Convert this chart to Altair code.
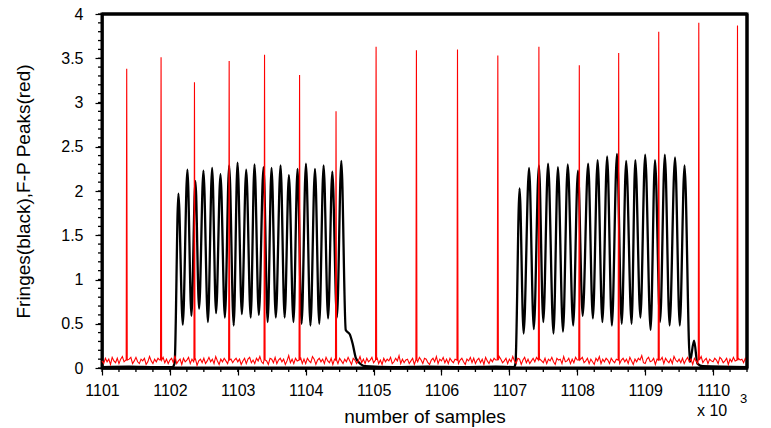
import altair as alt
import pandas as pd

FONT = "Liberation Sans"

# ---------------- data ----------------
# Fabry-Perot peaks (red spikes): position (x10^3 samples) and height
fp_x = [1101.364, 1101.870, 1102.362, 1102.873, 1103.394, 1103.910, 1104.447,
        1105.037, 1105.631, 1106.236, 1106.830, 1107.435, 1108.030,
        1108.610, 1109.200, 1109.790, 1110.360]
fp_peak = [3.38, 3.51, 3.23, 3.47, 3.54, 3.31, 2.90,
           3.63, 3.59, 3.60, 3.53, 3.63, 3.42,
           3.56, 3.80, 3.90, 3.87]
fp_base = 0.09

# red noise floor, sampled every 0.025 (x10^3) from 1101.0 to 1110.5
red_noise = [
    0.08, 0.05, 0.11, 0.07, 0.10, 0.04, 0.12, 0.08, 0.06, 0.11, 0.05, 0.10, 0.13, 0.07, 0.09, 0.04, 0.10, 0.12, 0.05, 0.08,
    0.12, 0.07, 0.05, 0.10, 0.08, 0.11, 0.04, 0.07, 0.13, 0.08, 0.05, 0.10, 0.07, 0.11, 0.09, 0.04, 0.12, 0.06, 0.10, 0.05,
    0.09, 0.11, 0.06, 0.14, 0.05, 0.08, 0.10, 0.04, 0.11, 0.07, 0.09, 0.12, 0.05, 0.10, 0.07, 0.11, 0.03, 0.08, 0.10, 0.06,
    0.11, 0.05, 0.08, 0.12, 0.07, 0.10, 0.05, 0.13, 0.08, 0.04, 0.10, 0.07, 0.11, 0.08, 0.05, 0.12, 0.10, 0.06, 0.09, 0.11,
    0.07, 0.10, 0.04, 0.08, 0.11, 0.05, 0.10, 0.12, 0.06, 0.09, 0.05, 0.11, 0.08, 0.13, 0.07, 0.05, 0.10, 0.08, 0.04, 0.11,
    0.10, 0.06, 0.12, 0.05, 0.09, 0.11, 0.07, 0.10, 0.04, 0.08, 0.14, 0.06, 0.10, 0.05, 0.11, 0.08, 0.06, 0.12, 0.05, 0.10,
    0.05, 0.11, 0.08, 0.06, 0.13, 0.10, 0.04, 0.09, 0.11, 0.07, 0.10, 0.05, 0.12, 0.08, 0.06, 0.11, 0.04, 0.10, 0.08, 0.05,
    0.11, 0.08, 0.05, 0.10, 0.07, 0.12, 0.08, 0.04, 0.11, 0.09, 0.05, 0.08, 0.13, 0.06, 0.10, 0.05, 0.11, 0.07, 0.09, 0.12,
    0.06, 0.10, 0.12, 0.05, 0.09, 0.04, 0.11, 0.07, 0.10, 0.08, 0.12, 0.05, 0.07, 0.11, 0.08, 0.14, 0.05, 0.10, 0.06, 0.09,
    0.10, 0.05, 0.08, 0.11, 0.04, 0.10, 0.07, 0.12, 0.09, 0.05, 0.11, 0.10, 0.06, 0.04, 0.09, 0.11, 0.07, 0.13, 0.05, 0.10,
    0.08, 0.12, 0.06, 0.10, 0.05, 0.11, 0.08, 0.06, 0.10, 0.13, 0.05, 0.09, 0.11, 0.07, 0.04, 0.10, 0.08, 0.12, 0.06, 0.11,
    0.05, 0.09, 0.11, 0.06, 0.10, 0.04, 0.12, 0.08, 0.05, 0.10, 0.07, 0.11, 0.09, 0.05, 0.13, 0.10, 0.06, 0.08, 0.11, 0.05,
    0.10, 0.07, 0.13, 0.08, 0.05, 0.11, 0.10, 0.04, 0.09, 0.12, 0.06, 0.10, 0.05, 0.08, 0.11, 0.07, 0.12, 0.05, 0.10, 0.08,
    0.06, 0.11, 0.05, 0.10, 0.08, 0.12, 0.07, 0.04, 0.11, 0.09, 0.10, 0.05, 0.13, 0.07, 0.08, 0.11, 0.05, 0.10, 0.06, 0.12,
    0.09, 0.05, 0.10, 0.12, 0.06, 0.08, 0.11, 0.05, 0.10, 0.07, 0.04, 0.11, 0.08, 0.13, 0.05, 0.10, 0.07, 0.11, 0.09, 0.05,
    0.11, 0.08, 0.06, 0.10, 0.13, 0.05, 0.09, 0.11, 0.07, 0.10, 0.05, 0.12, 0.08, 0.04, 0.10, 0.07, 0.11, 0.09, 0.14, 0.06,
    0.05, 0.10, 0.12, 0.07, 0.08, 0.11, 0.04, 0.10, 0.06, 0.09, 0.12, 0.05, 0.11, 0.08, 0.06, 0.10, 0.05, 0.13, 0.09, 0.07,
    0.10, 0.06, 0.11, 0.05, 0.09, 0.12, 0.07, 0.10, 0.04, 0.11, 0.08, 0.05, 0.10, 0.13, 0.06, 0.09, 0.11, 0.05, 0.10, 0.08,
    0.07, 0.11, 0.09, 0.05, 0.12, 0.10, 0.06, 0.08, 0.11, 0.04, 0.10, 0.07, 0.12, 0.08, 0.05, 0.11, 0.09, 0.10, 0.06, 0.11,
    0.08,
]
noise_start = 1101.0
noise_step = 0.025

# black fringe signal: baseline, then extrema (peak/trough) of the two bursts
fringe_x = [
    1101.00, 1101.40, 1101.80, 1102.04, 1102.07,
    1102.125, 1102.19, 1102.258, 1102.317, 1102.376, 1102.43, 1102.494, 1102.56,
    1102.622, 1102.68, 1102.745, 1102.81, 1102.873, 1102.94, 1102.996, 1103.06,
    1103.124, 1103.19, 1103.246, 1103.31, 1103.379, 1103.44, 1103.497, 1103.56,
    1103.63, 1103.69, 1103.753, 1103.82, 1103.88, 1103.94, 1104.004, 1104.07,
    1104.137, 1104.20, 1104.264, 1104.33, 1104.392, 1104.46, 1104.525,
    1104.59, 1104.65, 1104.69, 1104.74, 1104.81, 1104.88,
    1105.30, 1105.80, 1106.30, 1106.80, 1107.07, 1107.09,
    1107.15, 1107.21, 1107.29, 1107.36, 1107.435, 1107.50, 1107.57, 1107.65,
    1107.715, 1107.79, 1107.86, 1107.94, 1108.01, 1108.08, 1108.16, 1108.23,
    1108.30, 1108.37, 1108.44, 1108.51, 1108.585, 1108.655, 1108.72, 1108.80,
    1108.855, 1108.93, 1109.00, 1109.08, 1109.145, 1109.22, 1109.29, 1109.36,
    1109.44, 1109.51, 1109.58,
    1109.66, 1109.72, 1109.77, 1109.85, 1110.50,
]
fringe_y = [
    0.01, 0.015, 0.01, 0.01, 0.06,
    1.97, 0.49, 2.24, 0.59, 2.11, 0.67, 2.23, 0.52,
    2.26, 0.62, 2.19, 0.57, 2.29, 0.48, 2.32, 0.61,
    2.24, 0.57, 2.30, 0.60, 2.27, 0.52, 2.26, 0.57,
    2.29, 0.57, 2.18, 0.52, 2.25, 0.50, 2.31, 0.48,
    2.25, 0.50, 2.29, 0.56, 2.22, 0.57, 2.34,
    0.43, 0.38, 0.28, 0.11, 0.045, 0.02,
    0.01, 0.015, 0.01, 0.015, 0.01, 0.05,
    2.03, 0.39, 2.26, 0.44, 2.29, 0.52, 2.31, 0.39,
    2.27, 0.41, 2.30, 0.48, 2.23, 0.59, 2.31, 0.56,
    2.35, 0.52, 2.39, 0.48, 2.42, 0.50, 2.34, 0.50,
    2.35, 0.57, 2.41, 0.43, 2.35, 0.52, 2.41, 0.48,
    2.38, 0.48, 2.29,
    0.07, 0.31, 0.05, 0.02, 0.01,
]

x_ticks = [1101, 1102, 1103, 1104, 1105, 1106, 1107, 1108, 1109, 1110]
y_ticks = [0, 0.5, 1, 1.5, 2, 2.5, 3, 3.5, 4]
x_minor = [1101 + 0.25 * i for i in range(39)]
y_minor = [round(0.1 * i, 1) for i in range(41)]
x_max, y_max = 1110.5, 4

# ---------------- tables ----------------
red_pts = []
for i, v in enumerate(red_noise):
    xv = noise_start + noise_step * i
    if all(abs(xv - s) > 0.012 for s in fp_x):
        red_pts.append((xv, v))
for s, h in zip(fp_x, fp_peak):
    red_pts += [(s - 0.008, fp_base), (s, h), (s + 0.008, fp_base)]
red_pts.sort()
red_df = pd.DataFrame({"x": [p[0] for p in red_pts], "y": [p[1] for p in red_pts]})

black_df = pd.DataFrame({"x": fringe_x, "y": fringe_y})
xminor_df = pd.DataFrame({"x": x_minor})
yminor_df = pd.DataFrame({"y": y_minor})
top_df = pd.DataFrame({"y": [y_max]})
right_df = pd.DataFrame({"x": [x_max]})

# ---------------- chart ----------------
W, H = 645, 354
xs = alt.Scale(domain=[1101, x_max], nice=False, zero=False)
ys = alt.Scale(domain=[0, y_max], nice=False, zero=False)

common = dict(grid=False, tickColor="black", labelColor="black", titleColor="black",
              labelFont=FONT, titleFont=FONT, titleFontWeight="normal")

x_axis = alt.Axis(values=x_ticks, format="d", title="number of samples",
                  orient="bottom", tickSize=7, tickWidth=1.2, labelPadding=7,
                  labelFontSize=16, titleFontSize=19, labelFlush=False,
                  labelOverlap=False, titleY=54, titleBaseline="alphabetic",
                  domainColor="black", domainWidth=2.5, **common)
y_axis = alt.Axis(values=y_ticks, format="~g",
                  title="Fringes(black),F-P Peaks(red)",
                  orient="left", tickSize=7, tickWidth=1.2, labelPadding=12,
                  labelFontSize=16, titleFontSize=19, labelFlush=False,
                  labelOverlap=False, titleX=-73, titleY=H / 2,
                  titleBaseline="alphabetic", titleAngle=270,
                  domainColor="black", domainWidth=2.5, **common)

x_enc = alt.X("x:Q", scale=xs, axis=x_axis)
y_enc = alt.Y("y:Q", scale=ys, axis=y_axis)

black = alt.Chart(black_df).mark_line(
    color="black", strokeWidth=2.3, interpolate="monotone"
).encode(x=x_enc, y=y_enc)

red = alt.Chart(red_df).mark_line(color="#ff0000", strokeWidth=1.1).encode(
    x=x_enc, y=y_enc)

xminor = alt.Chart(xminor_df).mark_rule(color="black", strokeWidth=1.3).encode(
    x=x_enc, y=alt.value(H), y2=alt.value(H + 4))
yminor = alt.Chart(yminor_df).mark_rule(color="black", strokeWidth=1.3).encode(
    y=y_enc, x=alt.value(-4), x2=alt.value(0))
top_line = alt.Chart(top_df).mark_rule(color="black", strokeWidth=3).encode(
    y=y_enc, x=alt.value(0), x2=alt.value(W))
right_line = alt.Chart(right_df).mark_rule(color="black", strokeWidth=3).encode(
    x=x_enc, y=alt.value(0), y2=alt.value(H))

ann_df = pd.DataFrame({"t": ["x 10"]})
ann = alt.Chart(ann_df).mark_text(
    font=FONT, fontSize=16, color="black", align="left", baseline="alphabetic"
).encode(x=alt.value(595), y=alt.value(402), text="t:N")

sup_df = pd.DataFrame({"t": ["3"]})
sup = alt.Chart(sup_df).mark_text(
    font=FONT, fontSize=13, color="black", align="left", baseline="alphabetic"
).encode(x=alt.value(638), y=alt.value(389), text="t:N")

chart = alt.layer(black, red, xminor, yminor, top_line, right_line, ann, sup).properties(
    width=W, height=H,
    autosize=alt.AutoSizeParams(type="none"),
    padding={"left": 94, "top": 6, "right": 16, "bottom": 60},
    background="white",
).configure_view(stroke="black", strokeWidth=3)

chart.save("out.html", embed_options={"renderer": "svg", "actions": False})
